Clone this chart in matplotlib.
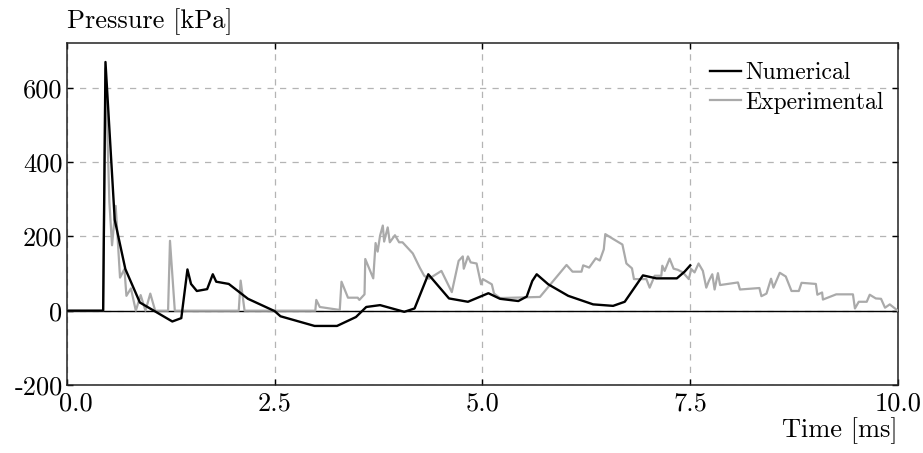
import matplotlib
matplotlib.use("Agg")
from matplotlib import pyplot as plt
from matplotlib.transforms import ScaledTranslation

plt.rcParams['font.family'] = 'serif'
plt.rcParams['font.serif'] = ['cmr10']
plt.rcParams['axes.formatter.use_mathtext'] = True

# Numerical (black) pressure trace, time in ms, pressure in kPa
num_t = [0.0, 0.438, 0.466, 0.577, 0.705, 0.880, 1.270, 1.378, 1.452, 1.495,
         1.565, 1.689, 1.757, 1.798, 1.949, 2.180, 2.500, 2.571, 2.981, 3.251,
         3.479, 3.603, 3.769, 4.060, 4.184, 4.349, 4.598, 4.826, 5.072, 5.212,
         5.432, 5.533, 5.600, 5.653, 5.792, 6.032, 6.332, 6.572, 6.712, 6.931,
         7.092, 7.339, 7.432, 7.500]
num_p = [0, 0, 669, 245, 112, 22, -29, -20, 111, 72,
         53, 58, 98, 78, 72, 32, -1, -15, -41, -41,
         -17, 10, 15, -3, 6, 98, 33, 24, 47, 32,
         26, 38, 80, 98, 71, 40, 17, 13, 24, 95,
         87, 87, 105, 122]

# Experimental (grey) pressure trace
exp_t = [0.0, 0.438, 0.466, 0.513, 0.545, 0.589, 0.641, 0.694, 0.718, 0.772,
         0.831, 0.889, 0.947, 1.005, 1.064, 1.219, 1.242, 1.300, 2.069, 2.092,
         2.139, 2.990, 3.002, 3.044, 3.284, 3.305, 3.383, 3.500, 3.520, 3.582,
         3.591, 3.687, 3.715, 3.740, 3.769, 3.802, 3.818, 3.861, 3.886, 3.948,
         3.998, 4.039, 4.163, 4.246, 4.300, 4.358, 4.507, 4.632, 4.714, 4.764,
         4.776, 4.826, 4.859, 4.930, 4.984, 5.005, 5.113, 5.140, 5.212, 5.692,
         6.012, 6.084, 6.192, 6.212, 6.284, 6.364, 6.412, 6.460, 6.478, 6.572,
         6.684, 6.732, 6.799, 6.823, 6.972, 7.012, 7.072, 7.152, 7.164, 7.192,
         7.252, 7.300, 7.351, 7.411, 7.483, 7.512, 7.552, 7.600, 7.652, 7.693,
         7.724, 7.765, 7.793, 7.833, 7.859, 8.074, 8.098, 8.332, 8.356, 8.417,
         8.472, 8.501, 8.577, 8.649, 8.718, 8.806, 8.839, 9.011, 9.029, 9.086,
         9.096, 9.256, 9.457, 9.481, 9.527, 9.623, 9.659, 9.732, 9.795, 9.843,
         9.900, 9.991]
exp_p = [0, 0, 652, 292, 176, 282, 89, 112, 40, 60,
         0, 42, 0, 46, 0, 0, 188, 0, 0, 81,
         0, 0, 29, 10, 2, 78, 35, 35, 29, 44,
         139, 87, 182, 159, 202, 229, 186, 224, 184, 203,
         184, 184, 154, 116, 94, 86, 107, 50, 134, 146,
         113, 146, 130, 127, 71, 85, 71, 46, 34, 37,
         123, 105, 105, 122, 116, 141, 135, 165, 206, 193,
         178, 127, 114, 85, 85, 62, 94, 94, 121, 107,
         140, 113, 110, 103, 85, 112, 103, 127, 107, 62,
         80, 98, 57, 101, 69, 76, 57, 61, 39, 46,
         86, 62, 102, 92, 53, 53, 75, 72, 43, 49,
         30, 44, 44, 6, 24, 24, 43, 33, 32, 8,
         17, 1]

x_ticks = [0.0, 2.5, 5.0, 7.5, 10.0]
x_labels = ['0.0', '2.5', '5.0', '7.5', '10.0']
y_ticks = [-200, 0, 200, 400, 600]
y_labels = ['-200', '0', '200', '400', '600']

fig = plt.figure(figsize=(9.23, 4.53), dpi=100)
ax = fig.add_axes([0.0723, 0.150, 0.9007, 0.755])
ax.set_axisbelow(True)

ax.axhline(0, color='k', lw=1.0, zorder=2.5)
ax.plot(exp_t, exp_p, color='#aaaaaa', lw=1.6, label='Experimental', zorder=3)
ax.plot(num_t, num_p, color='k', lw=1.7, label='Numerical', zorder=4)

ax.set_xlim(0, 10)
ax.set_ylim(-200, 720)
ax.set_xticks(x_ticks)
ax.set_xticklabels(x_labels)
ax.set_yticks(y_ticks)
ax.set_yticklabels(y_labels)
ax.tick_params(axis='both', which='both', direction='in', length=4, width=1,
               top=True, right=True, labelsize=19)
ax.tick_params(axis='x', pad=5)
ax.tick_params(axis='y', pad=3)
ax.grid(True, color='#b4b4b4', linestyle=(0, (5, 5)), lw=0.9, zorder=0)

# nudge the first x label right so it clears "-200"
first = ax.get_xticklabels()[0]
first.set_transform(first.get_transform() + ScaledTranslation(9 / 100, 0, fig.dpi_scale_trans))

for edge in ['left', 'right', 'bottom', 'top']:
    ax.spines[edge].set_color('#222222')
    ax.spines[edge].set_linewidth(1.1)

fig.text(0.0723, 0.952, 'Pressure [kPa]', ha='left', va='center', fontsize=19)
fig.text(0.973, 0.050, 'Time [ms]', ha='right', va='center', fontsize=19)

handles, labels = ax.get_legend_handles_labels()
ax.legend(handles[::-1], labels[::-1], loc='upper right', frameon=False,
          fontsize=17, handlelength=1.3, handletextpad=0.2, labelspacing=0.3,
          bbox_to_anchor=(1.0, 0.985), borderaxespad=0.2)

plt.savefig('out.png', dpi=100)
plt.close()
